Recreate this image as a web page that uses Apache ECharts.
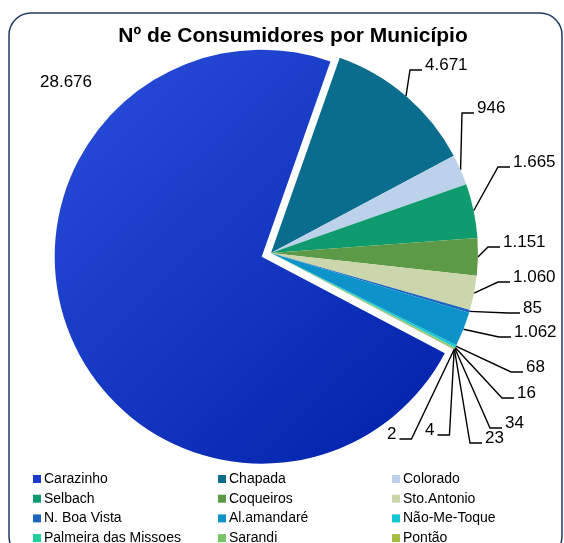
<!DOCTYPE html>
<html>
<head>
	<meta charset="UTF-8">
	<title>Nº de Consumidores por Município</title>
	<script src="https://cdn.jsdelivr.net/npm/echarts@6/dist/echarts.min.js"></script>
	<style>
		html, body { margin: 0; padding: 0; background: #fff; }
		#main { width: 564px; height: 543px; }
	</style>
</head>
<body>
<div id="main"></div>

<script>
	// dados
	var municipios = ['Carazinho', 'Chapada', 'Colorado', 'Selbach', 'Coqueiros', 'Sto.Antonio',
		'N. Boa Vista', 'Al.amandaré', 'Não-Me-Toque', 'Palmeira das Missoes', 'Sarandi', 'Pontão',
		'Outros 1', 'Outros 2'];
	var consumidores = [28676, 4671, 946, 1665, 1151, 1060, 85, 1062, 68, 16, 34, 23, 4, 2];
	var cores = ['#1a3bcc', '#0b6d8e', '#bcd2ea', '#0f9b6d', '#5d9a47', '#ccd6ac',
		'#1c66c0', '#0d93c9', '#14c6d2', '#1ccf9c', '#79c466', '#a6bd45', '#5f6f80', '#7f7f7f'];

	// colunas da legenda
	var legenda1 = ['Carazinho', 'Selbach', 'N. Boa Vista', 'Palmeira das Missoes'];
	var legenda2 = ['Chapada', 'Coqueiros', 'Al.amandaré', 'Sarandi'];
	var legenda3 = ['Colorado', 'Sto.Antonio', 'Não-Me-Toque', 'Pontão'];

	// posição dos rótulos (esquerda, meio)
	var posRotulo = [[40, 82], [425, 65], [477, 108], [513, 162], [503, 242], [513, 277],
		[523, 308], [514, 332], [526, 367], [517, 393], [505, 423], [485, 438], [425, 430], [387, 434]];

	var centro = [271, 253];
	var raio = 207;
	var inicio = 332.2;
	var destaque = 10;

	function fmt(v) {
		return String(v).replace(/\B(?=(\d{3})+(?!\d))/g, '.');
	}

	// deslocamento da fatia Carazinho (explodida)
	var total = 0;
	consumidores.forEach(function (v) { total += v; });
	var meio = (inicio - consumidores[0] / total * 180) * Math.PI / 180;
	var centro2 = [centro[0] + destaque * Math.cos(meio), centro[1] - destaque * Math.sin(meio)];

	var invisivel = {color: 'rgba(0,0,0,0)'};
	var dadosBase = [], dadosDestaque = [];
	for (var i = 0; i < municipios.length; i++) {
		if (i == 0) {
			dadosBase.push({name: municipios[i], value: consumidores[i], itemStyle: invisivel,
				label: {show: false}, labelLine: {show: false}});
			dadosDestaque.push({name: municipios[i], value: consumidores[i],
				itemStyle: {color: new echarts.graphic.LinearGradient(0, 0, 1, 1, [
					{offset: 0, color: '#2a4fdc'},
					{offset: 1, color: '#0020a8'}
				])},
				labelLine: {show: false}});
		} else {
			dadosBase.push({name: municipios[i], value: consumidores[i], itemStyle: {color: cores[i]}});
			dadosDestaque.push({name: municipios[i], value: consumidores[i], itemStyle: invisivel,
				label: {show: false}, labelLine: {show: false}});
		}
	}

	function legenda(lista, x) {
		return {
			data: lista.map(function (n) {
				return {name: n, itemStyle: {color: cores[municipios.indexOf(n)]}};
			}),
			orient: 'vertical',
			left: x,
			top: 467,
			height: 120,
			icon: 'rect',
			itemWidth: 8,
			itemHeight: 8,
			itemGap: 5.7,
			selectedMode: false,
			textStyle: {fontFamily: 'Liberation Sans', fontSize: 14, color: '#000', padding: [0, 0, 0, -2]}
		};
	}

	function rotulo(p) {
		var pos = posRotulo[p.dataIndex];
		var r = {x: pos[0], y: pos[1], align: 'left', verticalAlign: 'middle'};
		if (p.dataIndex > 0 && p.labelLinePoints) {
			var ini = p.labelLinePoints[0];
			var yl = pos[1] + 5;
			var w = p.labelRect.width;
			if (pos[0] > ini[0]) {
				r.labelLinePoints = [ini, [pos[0] - 15, yl], [pos[0] - 3, yl]];
			} else {
				r.labelLinePoints = [ini, [pos[0] + w + 15, yl], [pos[0] + w + 3, yl]];
			}
		}
		return r;
	}

	var serieBase = {
		type: 'pie',
		radius: raio,
		startAngle: inicio,
		clockwise: true,
		avoidLabelOverlap: false,
		emphasis: {disabled: true},
		label: {
			show: true,
			position: 'outside',
			formatter: function (p) { return fmt(p.value); },
			fontFamily: 'Liberation Sans',
			fontSize: 17,
			color: '#000'
		},
		labelLine: {
			show: true,
			length: 10,
			length2: 12,
			lineStyle: {color: '#000', width: 1.4}
		},
		labelLayout: rotulo
	};

	var myChart = echarts.init(document.getElementById('main'));
	var option = {
		backgroundColor: '#fff',
		animation: false,
		title: {
			text: 'Nº de Consumidores por Município',
			left: 288,
			top: 21,
			textAlign: 'center',
			textStyle: {fontFamily: 'Liberation Sans', fontWeight: 'bold', fontSize: 21, color: '#000'}
		},
		legend: [legenda(legenda1, 28), legenda(legenda2, 213), legenda(legenda3, 387)],
		graphic: [{
			type: 'rect',
			z: -10,
			shape: {x: 9, y: 13, width: 553, height: 545, r: 22},
			style: {fill: '#fff', stroke: '#1f3864', lineWidth: 1.5}
		}],
		series: [
			Object.assign({}, serieBase, {name: 'base', center: centro, data: dadosBase}),
			Object.assign({}, serieBase, {name: 'destaque', center: centro2, data: dadosDestaque})
		]
	};
	myChart.setOption(option);
</script>
</body>
</html>
